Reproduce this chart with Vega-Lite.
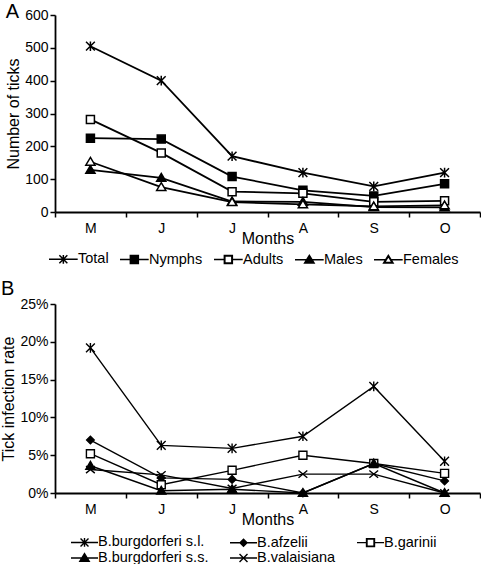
{
  "$schema": "https://vega.github.io/schema/vega-lite/v6.json",
  "background": "white",
  "padding": {"left": 0, "top": 2, "right": 0, "bottom": 0},
  "spacing": 12,
  "datasets": {
    "ticks": [
      {"month": "May", "series": "Total", "value": 505},
      {"month": "Jun", "series": "Total", "value": 400},
      {"month": "Jul", "series": "Total", "value": 170},
      {"month": "Aug", "series": "Total", "value": 120},
      {"month": "Sep", "series": "Total", "value": 78},
      {"month": "Oct", "series": "Total", "value": 120},
      {"month": "May", "series": "Nymphs", "value": 225},
      {"month": "Jun", "series": "Nymphs", "value": 222},
      {"month": "Jul", "series": "Nymphs", "value": 108},
      {"month": "Aug", "series": "Nymphs", "value": 66},
      {"month": "Sep", "series": "Nymphs", "value": 49},
      {"month": "Oct", "series": "Nymphs", "value": 86},
      {"month": "May", "series": "Adults", "value": 282},
      {"month": "Jun", "series": "Adults", "value": 180},
      {"month": "Jul", "series": "Adults", "value": 62},
      {"month": "Aug", "series": "Adults", "value": 57},
      {"month": "Sep", "series": "Adults", "value": 31},
      {"month": "Oct", "series": "Adults", "value": 34},
      {"month": "May", "series": "Males", "value": 128},
      {"month": "Jun", "series": "Males", "value": 104},
      {"month": "Jul", "series": "Males", "value": 32},
      {"month": "Aug", "series": "Males", "value": 31},
      {"month": "Sep", "series": "Males", "value": 15},
      {"month": "Oct", "series": "Males", "value": 14},
      {"month": "May", "series": "Females", "value": 153},
      {"month": "Jun", "series": "Females", "value": 76},
      {"month": "Jul", "series": "Females", "value": 30},
      {"month": "Aug", "series": "Females", "value": 23},
      {"month": "Sep", "series": "Females", "value": 17},
      {"month": "Oct", "series": "Females", "value": 20}
    ],
    "infection": [
      {"month": "May", "series": "B.burgdorferi s.l.", "value": 0.192},
      {"month": "Jun", "series": "B.burgdorferi s.l.", "value": 0.063},
      {"month": "Jul", "series": "B.burgdorferi s.l.", "value": 0.059},
      {"month": "Aug", "series": "B.burgdorferi s.l.", "value": 0.075},
      {"month": "Sep", "series": "B.burgdorferi s.l.", "value": 0.141},
      {"month": "Oct", "series": "B.burgdorferi s.l.", "value": 0.042},
      {"month": "May", "series": "B.afzelii", "value": 0.070},
      {"month": "Jun", "series": "B.afzelii", "value": 0.020},
      {"month": "Jul", "series": "B.afzelii", "value": 0.018},
      {"month": "Aug", "series": "B.afzelii", "value": 0.000},
      {"month": "Sep", "series": "B.afzelii", "value": 0.039},
      {"month": "Oct", "series": "B.afzelii", "value": 0.016},
      {"month": "May", "series": "B.garinii", "value": 0.052},
      {"month": "Jun", "series": "B.garinii", "value": 0.011},
      {"month": "Jul", "series": "B.garinii", "value": 0.030},
      {"month": "Aug", "series": "B.garinii", "value": 0.050},
      {"month": "Sep", "series": "B.garinii", "value": 0.039},
      {"month": "Oct", "series": "B.garinii", "value": 0.026},
      {"month": "May", "series": "B.burgdorferi s.s.", "value": 0.036},
      {"month": "Jun", "series": "B.burgdorferi s.s.", "value": 0.003},
      {"month": "Jul", "series": "B.burgdorferi s.s.", "value": 0.005},
      {"month": "Aug", "series": "B.burgdorferi s.s.", "value": 0.000},
      {"month": "Sep", "series": "B.burgdorferi s.s.", "value": 0.039},
      {"month": "Oct", "series": "B.burgdorferi s.s.", "value": 0.000},
      {"month": "May", "series": "B.valaisiana", "value": 0.031},
      {"month": "Jun", "series": "B.valaisiana", "value": 0.024},
      {"month": "Jul", "series": "B.valaisiana", "value": 0.006},
      {"month": "Aug", "series": "B.valaisiana", "value": 0.025},
      {"month": "Sep", "series": "B.valaisiana", "value": 0.025},
      {"month": "Oct", "series": "B.valaisiana", "value": 0.000}
    ]
  },
  "vconcat": [
    {
      "width": 425,
      "height": 197,
      "title": {"text": "A", "anchor": "start", "frame": "bounds", "fontSize": 20, "fontWeight": "normal", "offset": 0, "dy": 14, "dx": 0},
      "data": {"name": "ticks"},
      "encoding": {
        "x": {
          "field": "month", "type": "ordinal",
          "sort": ["May", "Jun", "Jul", "Aug", "Sep", "Oct"],
          "scale": {"type": "band", "paddingInner": 0, "paddingOuter": 0},
          "axis": {"title": "Months", "tickBand": "extent", "labelAngle": 0, "labelExpr": "substring(datum.label, 0, 1)", "labelPadding": 4, "titlePadding": -5, "tickSize": 5}
        },
        "y": {
          "field": "value", "type": "quantitative",
          "scale": {"domain": [0, 600], "nice": false},
          "axis": {"title": "Number of ticks", "values": [0, 100, 200, 300, 400, 500, 600], "tickSize": 5, "labelPadding": 2, "titlePadding": 3}
        }
      },
      "layer": [
        {
          "mark": {"type": "line", "color": "black", "strokeWidth": 1.8},
          "encoding": {"detail": {"field": "series"}}
        },
        {
          "mark": {"type": "point", "opacity": 1, "stroke": "black", "strokeWidth": 1.5, "size": 64},
          "encoding": {
            "shape": {
              "field": "series",
              "scale": {
                "domain": ["Total", "Nymphs", "Adults", "Males", "Females"],
                "range": [
                  "M-1.1,-1.1L1.1,1.1M-1.1,1.1L1.1,-1.1M0,-1.2V1.2",
                  "M-1,-1H1V1H-1Z",
                  "M-1,-1H1V1H-1Z",
                  "M0,-1.1L1.15,0.85H-1.15Z",
                  "M0,-1.1L1.15,0.85H-1.15Z"
                ]
              },
              "legend": null
            },
            "fill": {
              "field": "series",
              "scale": {"domain": ["Total", "Nymphs", "Adults", "Males", "Females"], "range": ["black", "black", "white", "black", "white"]},
              "legend": null
            }
          }
        },
        {
          "transform": [{"filter": "false"}],
          "mark": {"type": "point", "filled": true, "color": "black", "opacity": 1, "stroke": "black", "strokeWidth": 1.5},
          "encoding": {
            "shape": {
              "field": "series",
              "title": null,
              "scale": {
                "domain": ["Total", "Nymphs", "Adults", "Males", "Females"],
                "range": [
                  "M-1,0H3.1M0.48,-0.57L1.62,0.57M0.48,0.57L1.62,-0.57M1.05,-0.62V0.62",
                  "M-1,0H3.1M0.48,-0.57H1.62V0.57H0.48Z",
                  "M-1,0H0.48M1.62,0H3.1M0.48,-0.57H1.62V0.57H0.48ZM0.55,-0.5V0.5H1.55V-0.5Z",
                  "M-1,0H3.1M1.05,-0.62L1.72,0.48H0.38Z",
                  "M-1,0H0.67M1.43,0H3.1M1.05,-0.62L1.72,0.48H0.38ZM1.05,-0.5L0.5,0.41H1.6Z"
                ]
              },
              "legend": {
                "title": null,
                "orient": "none",
                "legendX": -7,
                "legendY": 236,
                "direction": "horizontal",
                "symbolSize": 196,
                "symbolStrokeWidth": 1.5,
                "labelFontSize": 14.5,
                "labelOffset": 14,
                "columnPadding": 8
              }
            }
          }
        }
      ],
      "resolve": {"scale": {"shape": "independent", "fill": "independent"}, "legend": {"shape": "independent", "fill": "independent"}}
    },
    {
      "width": 425,
      "height": 189,
      "title": {"text": "B", "anchor": "start", "frame": "bounds", "fontSize": 20, "fontWeight": "normal", "offset": 0, "dy": 2, "dx": 0},
      "data": {"name": "infection"},
      "encoding": {
        "x": {
          "field": "month", "type": "ordinal",
          "sort": ["May", "Jun", "Jul", "Aug", "Sep", "Oct"],
          "scale": {"type": "band", "paddingInner": 0, "paddingOuter": 0},
          "axis": {"title": "Months", "tickBand": "extent", "labelAngle": 0, "labelExpr": "substring(datum.label, 0, 1)", "labelPadding": 4, "titlePadding": -5, "tickSize": 5}
        },
        "y": {
          "field": "value", "type": "quantitative",
          "scale": {"domain": [0, 0.25], "nice": false},
          "axis": {"title": "Tick infection rate", "values": [0, 0.05, 0.1, 0.15, 0.2, 0.25], "format": ".0%", "tickSize": 5, "labelPadding": 2, "titlePadding": 3}
        }
      },
      "layer": [
        {
          "mark": {"type": "line", "color": "black", "strokeWidth": 1.4},
          "encoding": {"detail": {"field": "series"}}
        },
        {
          "mark": {"type": "point", "opacity": 1, "stroke": "black", "strokeWidth": 1.4, "size": 64},
          "encoding": {
            "shape": {
              "field": "series",
              "scale": {
                "domain": ["B.burgdorferi s.l.", "B.afzelii", "B.garinii", "B.burgdorferi s.s.", "B.valaisiana"],
                "range": [
                  "M-1.1,-1.1L1.1,1.1M-1.1,1.1L1.1,-1.1M0,-1.2V1.2",
                  "M0,-0.95L0.95,0L0,0.95L-0.95,0Z",
                  "M-1,-1H1V1H-1Z",
                  "M0,-1.1L1.15,0.85H-1.15Z",
                  "M-1.1,-0.9L1.1,0.9M-1.1,0.9L1.1,-0.9"
                ]
              },
              "legend": null
            },
            "fill": {
              "field": "series",
              "scale": {"domain": ["B.burgdorferi s.l.", "B.afzelii", "B.garinii", "B.burgdorferi s.s.", "B.valaisiana"], "range": ["black", "black", "white", "black", "black"]},
              "legend": null
            }
          }
        },
        {
          "transform": [{"filter": "false"}],
          "mark": {"type": "point", "filled": true, "color": "black", "opacity": 1, "stroke": "black", "strokeWidth": 1.4},
          "encoding": {
            "shape": {
              "field": "series",
              "title": null,
              "scale": {
                "domain": ["B.burgdorferi s.l.", "B.afzelii", "B.garinii", "B.burgdorferi s.s.", "B.valaisiana"],
                "range": [
                  "M-1,0H2.86M0.36,-0.57L1.5,0.57M0.36,0.57L1.5,-0.57M0.93,-0.62V0.62",
                  "M-1,0H2.86M0.93,-0.5L1.43,0L0.93,0.5L0.43,0Z",
                  "M-1,0H0.36M1.5,0H2.86M0.36,-0.57H1.5V0.57H0.36ZM0.43,-0.5V0.5H1.43V-0.5Z",
                  "M-1,0H2.86M0.93,-0.62L1.6,0.48H0.26Z",
                  "M-1,0H2.86M0.36,-0.57L1.5,0.57M0.36,0.57L1.5,-0.57"
                ]
              },
              "legend": {
                "title": null,
                "orient": "none",
                "legendX": 15,
                "legendY": 230,
                "direction": "horizontal",
                "columns": 3,
                "symbolSize": 196,
                "symbolStrokeWidth": 1.4,
                "labelFontSize": 14.5,
                "labelOffset": 12,
                "columnPadding": 18,
                "rowPadding": -1
              }
            }
          }
        }
      ],
      "resolve": {"scale": {"shape": "independent", "fill": "independent"}, "legend": {"shape": "independent", "fill": "independent"}}
    }
  ],
  "resolve": {"scale": {"shape": "independent", "fill": "independent"}, "legend": {"shape": "independent", "fill": "independent"}},
  "config": {
    "font": "Liberation Sans",
    "view": {"stroke": null},
    "axis": {
      "domainColor": "black", "domainWidth": 1.8,
      "tickColor": "black", "tickWidth": 1.5,
      "labelColor": "black", "labelFontSize": 14,
      "titleColor": "black", "titleFontSize": 16, "titleFontWeight": "normal",
      "grid": false
    },
    "legend": {"labelColor": "black", "labelFont": "Liberation Sans"},
    "title": {"color": "black", "font": "Liberation Sans"}
  }
}
